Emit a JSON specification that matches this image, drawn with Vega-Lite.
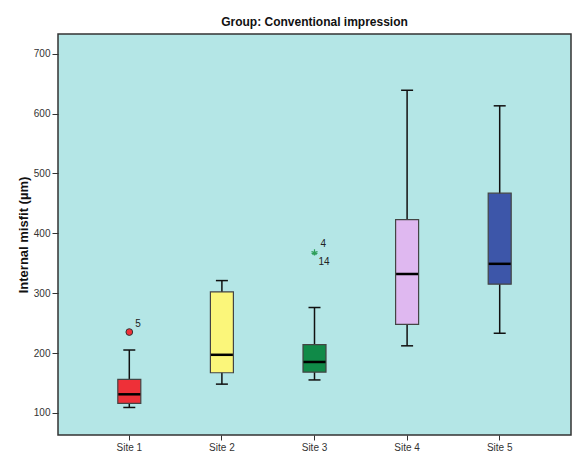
{
  "$schema": "https://vega.github.io/schema/vega-lite/v6.json",
  "autosize": "none",
  "width": 513,
  "height": 401,
  "padding": {"left": 58, "top": 34, "right": 6, "bottom": 22},
  "background": "white",
  "title": {
    "text": "Group: Conventional impression",
    "font": "Liberation Sans",
    "fontSize": 12,
    "fontWeight": "bold",
    "color": "#111",
    "offset": 5
  },
  "config": {
    "view": {"fill": "#B4E6E6", "stroke": "#333", "strokeWidth": 1.5},
    "axis": {"labelFont": "Liberation Sans", "titleFont": "Liberation Sans", "grid": false, "domain": false, "tickColor": "#333", "labelColor": "#333", "labelFontSize": 10}
  },
  "datasets": {
    "stats": [
      {"site": "Site 1", "lower": 109, "q1": 116, "median": 131, "q3": 156, "upper": 205},
      {"site": "Site 2", "lower": 148, "q1": 167, "median": 197, "q3": 302, "upper": 321},
      {"site": "Site 3", "lower": 155, "q1": 168, "median": 185, "q3": 214, "upper": 276},
      {"site": "Site 4", "lower": 212, "q1": 248, "median": 332, "q3": 423, "upper": 639},
      {"site": "Site 5", "lower": 233, "q1": 315, "median": 349, "q3": 467, "upper": 613}
    ],
    "outliers": [
      {"site": "Site 1", "value": 235, "kind": "outlier"}
    ],
    "extremes": [
      {"site": "Site 3", "value": 368, "kind": "extreme"}
    ],
    "labels": [
      {"site": "Site 1", "value": 235, "label": "5", "pos": "top"},
      {"site": "Site 3", "value": 368, "label": "4", "pos": "top"},
      {"site": "Site 3", "value": 368, "label": "14", "pos": "bottom"}
    ]
  },
  "encoding": {
    "x": {
      "field": "site",
      "type": "nominal",
      "scale": {"type": "band", "domain": ["Site 1", "Site 2", "Site 3", "Site 4", "Site 5"], "paddingInner": 0, "paddingOuter": 0.27},
      "axis": {"title": null, "labelAngle": 0, "tickSize": 5, "labelPadding": 2}
    }
  },
  "layer": [
    {
      "data": {"name": "stats"},
      "mark": {"type": "rule", "color": "#111", "strokeWidth": 1.5},
      "encoding": {
        "y": {"field": "lower", "type": "quantitative", "scale": {"domain": [63, 733], "nice": false, "zero": false},
          "axis": {"title": "Internal misfit (µm)", "titleFontSize": 13, "titleFontWeight": "bold", "titleColor": "#111", "values": [100, 200, 300, 400, 500, 600, 700], "tickSize": 6, "labelPadding": 2, "titlePadding": 3}},
        "y2": {"field": "upper"}
      }
    },
    {
      "data": {"name": "stats"},
      "mark": {"type": "bar", "size": 23, "stroke": "#444", "strokeWidth": 1.2},
      "encoding": {
        "y": {"field": "q1", "type": "quantitative"},
        "y2": {"field": "q3"},
        "color": {"field": "site", "type": "nominal", "legend": null,
          "scale": {"domain": ["Site 1", "Site 2", "Site 3", "Site 4", "Site 5"], "range": ["#EE3038", "#FBF67A", "#108A48", "#DFB8F0", "#3D56A9"]}},
        "opacity": {"value": 1}
      }
    },
    {
      "data": {"name": "stats"},
      "mark": {"type": "tick", "size": 22, "thickness": 2.5, "color": "#000", "opacity": 1},
      "encoding": {"y": {"field": "median", "type": "quantitative"}}
    },
    {
      "data": {"name": "stats"},
      "mark": {"type": "tick", "size": 12, "thickness": 1.5, "color": "#111", "opacity": 1},
      "encoding": {"y": {"field": "lower", "type": "quantitative"}}
    },
    {
      "data": {"name": "stats"},
      "mark": {"type": "tick", "size": 12, "thickness": 1.5, "color": "#111", "opacity": 1},
      "encoding": {"y": {"field": "upper", "type": "quantitative"}}
    },
    {
      "data": {"name": "outliers"},
      "mark": {"type": "point", "shape": "circle", "filled": true, "size": 45, "fill": "#EE3038", "stroke": "#333", "strokeWidth": 1, "opacity": 1},
      "encoding": {"y": {"field": "value", "type": "quantitative"}}
    },
    {
      "data": {"name": "extremes"},
      "mark": {"type": "point", "shape": "M0,-1L0,1M-0.95,-0.31L0.95,0.31M-0.95,0.31L0.95,-0.31M-0.59,0.81L0,0M0.59,0.81L0,0", "filled": false, "size": 40, "stroke": "#2E9E5A", "strokeWidth": 1.2, "opacity": 1},
      "encoding": {"y": {"field": "value", "type": "quantitative"}}
    },
    {
      "data": {"name": "labels"},
      "transform": [{"filter": "datum.pos == 'top'"}],
      "mark": {"type": "text", "align": "left", "dx": 6, "dy": -8, "font": "Liberation Sans", "fontSize": 10, "color": "#222"},
      "encoding": {"y": {"field": "value", "type": "quantitative"}, "text": {"field": "label"}}
    },
    {
      "data": {"name": "labels"},
      "transform": [{"filter": "datum.pos == 'bottom'"}],
      "mark": {"type": "text", "align": "left", "dx": 4, "dy": 10, "font": "Liberation Sans", "fontSize": 10, "color": "#222"},
      "encoding": {"y": {"field": "value", "type": "quantitative"}, "text": {"field": "label"}}
    }
  ]
}
